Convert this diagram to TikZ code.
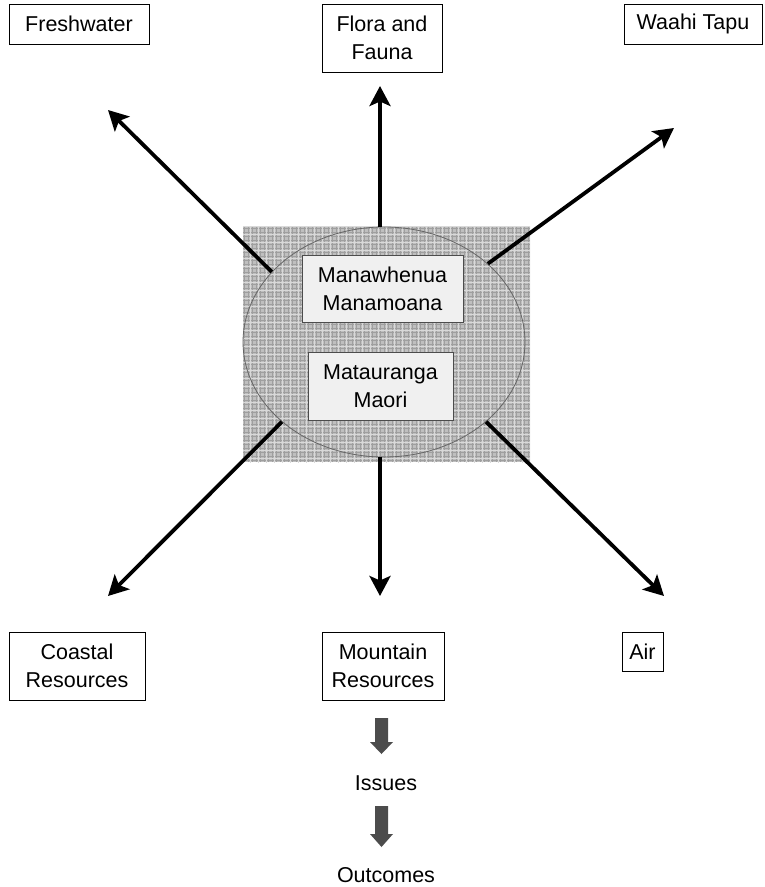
\documentclass[tikz,border=0pt]{standalone}
\usepackage{fontspec}
\setmainfont{Liberation Sans}
\usetikzlibrary{arrows.meta,shapes.geometric}
\begin{document}
\begin{tikzpicture}[x=1pt,y=-1pt,
  lbl/.style={font=\fontsize{21.5}{28}\selectfont, align=center, inner sep=0pt},
  outbox/.style={draw=black, line width=0.9pt, fill=white},
  inbox/.style={draw=black!70, line width=0.8pt, fill=gray!12},
  conn/.style={line width=3.8pt, -{Stealth[length=20pt,width=21pt,inset=4.5pt]}},
  blockarrow/.style={fill=black!70, draw=none}]
\useasboundingbox (0,0) rectangle (764,887);
% textured square
\fill[gray!50] (243,226) rectangle (530,462);
\begin{scope}
\clip (243,226) rectangle (530,462);
\draw[gray!75, line width=0.9pt, step=4pt] (243,226) grid (530,462);
\draw[gray!30, line width=0.5pt, step=8pt, xshift=2pt, yshift=-2pt] (240,222) grid (534,466);
\end{scope}
% ellipse
\node[ellipse, draw=black!60, line width=0.8pt, minimum width=282pt, minimum height=230pt, inner sep=0pt] (ell) at (384,342) {};
% inner boxes
\draw[inbox] (302,255) rectangle (463,322);
\node[lbl] (mana) at (382.5,288.5) {Manawhenua\\Manamoana};
\draw[inbox] (308,352) rectangle (453,420);
\node[lbl] (mata) at (380.5,386) {Matauranga\\Maori};
% outer boxes
\draw[outbox] (9,4) rectangle (149,44);
\node[lbl] (fresh) at (79,24) {Freshwater};
\draw[outbox] (322,4) rectangle (442,72);
\node[lbl] (flora) at (382,38) {Flora and\\Fauna};
\draw[outbox] (624,4) rectangle (762,44);
\node[lbl] (waahi) at (693,24) {Waahi Tapu};
\draw[outbox] (9,632) rectangle (145,700);
\node[lbl] (coast) at (77,666) {Coastal\\Resources};
\draw[outbox] (322,632) rectangle (444,700);
\node[lbl] (mount) at (383,666) {Mountain\\Resources};
\draw[outbox] (622,632) rectangle (663,671);
\node[lbl] (air) at (642.5,651.5) {Air};
% arrow tips
\coordinate (tN) at (380,86);
\coordinate (tNW) at (108,110);
\coordinate (tNE) at (674,128);
\coordinate (tSW) at (108,596);
\coordinate (tS) at (380,596);
\coordinate (tSE) at (664,596);
\draw[conn] (ell.north -| tN) -- (tN);
\draw[conn] (ell.148) -- (tNW);
\draw[conn] (ell.37.6) -- (tNE);
\draw[conn] (ell.218) -- (tSW);
\draw[conn] (ell.south -| tS) -- (tS);
\draw[conn] (ell.322.6) -- (tSE);
% block arrows and outcome texts
\node[lbl] (issues) at (386,783) {Issues};
\node[lbl] (outc) at (386,875) {Outcomes};
\fill[blockarrow] (375,718) -- (388,718) -- (388,742) -- (393,742) -- (381.5,754) -- (370,742) -- (375,742) -- cycle;
\fill[blockarrow] (375,806) -- (388,806) -- (388,834) -- (393,834) -- (381.5,847) -- (370,834) -- (375,834) -- cycle;
\end{tikzpicture}
\end{document}
